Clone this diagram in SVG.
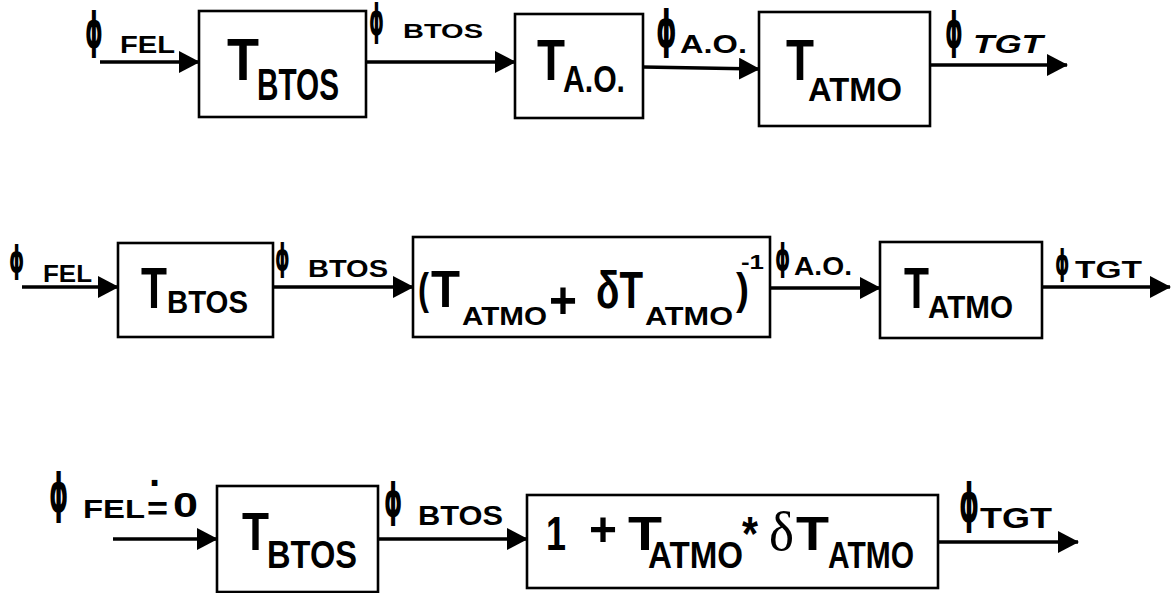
<svg xmlns="http://www.w3.org/2000/svg" width="1175" height="593" viewBox="0 0 1175 593">
  <style>
    .blk { fill: #fff; stroke: #000; stroke-width: 2.6; }
    .wire { fill: none; stroke: #000; stroke-width: 3.6; marker-end: url(#head); }
    text { font-family: "Liberation Sans", Arial, "DejaVu Sans", sans-serif; font-weight: bold; fill: #000; }
    .phi { font-family: "DejaVu Sans", sans-serif; font-weight: bold; }
    .ser { font-family: "Liberation Serif", "Times New Roman", serif; font-weight: normal; }
    .it { font-style: italic; }
  </style>
  <defs>
    <marker id="head" markerUnits="userSpaceOnUse" viewBox="0 0 21 22" markerWidth="21" markerHeight="22" refX="20" refY="11" orient="auto">
      <path d="M0,0 L21,11 L0,22 Z" fill="#000"/>
    </marker>
  </defs>
  <rect width="1175" height="593" fill="#fff"/>

  <!-- connectors -->
  <g id="connectors">
    <!-- row 1 -->
    <line class="wire" x1="100" y1="62" x2="199" y2="62"/>
    <line class="wire" x1="366" y1="62" x2="515" y2="62"/>
    <line class="wire" x1="643" y1="67" x2="759" y2="69"/>
    <line class="wire" x1="930" y1="65" x2="1067" y2="65"/>
    <!-- row 2 -->
    <line class="wire" x1="22" y1="287" x2="118" y2="287"/>
    <line class="wire" x1="273" y1="287" x2="413" y2="287"/>
    <line class="wire" x1="770" y1="288" x2="880" y2="288"/>
    <line class="wire" x1="1042" y1="287" x2="1170" y2="287"/>
    <!-- row 3 -->
    <line class="wire" x1="113" y1="539" x2="217" y2="539"/>
    <line class="wire" x1="378" y1="539" x2="527" y2="539"/>
    <line class="wire" x1="938" y1="542" x2="1078" y2="542"/>
  </g>

  <!-- signal labels (phi glyphs narrowed with a horizontal scale) -->
  <g id="labels">
    <text class="phi" font-size="50" transform="translate(85,48) scale(0.45,1)">ϕ</text>
    <text x="120" y="53" font-size="24" textLength="55" lengthAdjust="spacingAndGlyphs">FEL</text>
    <text class="phi" font-size="42" transform="translate(369,35) scale(0.45,1)">ϕ</text>
    <text x="403" y="38" font-size="21" textLength="80" lengthAdjust="spacingAndGlyphs">BTOS</text>
    <text class="phi" font-size="52" transform="translate(656,47) scale(0.5,1)">ϕ</text>
    <text x="680" y="53" font-size="25" textLength="67" lengthAdjust="spacingAndGlyphs">A.O.</text>
    <text class="phi" font-size="50" transform="translate(945,48) scale(0.45,1)">ϕ</text>
    <text class="it" x="973" y="53" font-size="25" textLength="70" lengthAdjust="spacingAndGlyphs">TGT</text>

    <text class="phi" font-size="37" transform="translate(9,272) scale(0.52,1)">ϕ</text>
    <text x="43" y="282" font-size="24" textLength="49" lengthAdjust="spacingAndGlyphs">FEL</text>
    <text class="phi" font-size="37" transform="translate(275,270) scale(0.5,1)">ϕ</text>
    <text x="308" y="277" font-size="24" textLength="80" lengthAdjust="spacingAndGlyphs">BTOS</text>
    <text class="phi" font-size="37" transform="translate(775,270) scale(0.52,1)">ϕ</text>
    <text x="794" y="275" font-size="25" textLength="58" lengthAdjust="spacingAndGlyphs">A.O.</text>
    <text class="phi" font-size="35" transform="translate(1055,275) scale(0.52,1)">ϕ</text>
    <text x="1075" y="278" font-size="23" textLength="67" lengthAdjust="spacingAndGlyphs">TGT</text>

    <text class="phi" font-size="54" transform="translate(49,512) scale(0.45,1)">ϕ</text>
    <text x="83" y="518" font-size="25" textLength="62" lengthAdjust="spacingAndGlyphs">FEL</text>
    <text x="147" y="520" font-size="34" textLength="21" lengthAdjust="spacingAndGlyphs">=</text>
    <text x="149" y="497" font-size="40">·</text>
    <text x="173" y="517" font-size="35" textLength="25" lengthAdjust="spacingAndGlyphs">0</text>
    <text class="phi" font-size="46" transform="translate(384,516) scale(0.5,1)">ϕ</text>
    <text x="418" y="525" font-size="28" textLength="85" lengthAdjust="spacingAndGlyphs">BTOS</text>
    <text class="phi" font-size="54" transform="translate(959,522) scale(0.47,1)">ϕ</text>
    <text x="980" y="528" font-size="29" textLength="72" lengthAdjust="spacingAndGlyphs">TGT</text>
  </g>

  <!-- row 1 blocks -->
  <g id="r1-btos">
    <rect class="blk" x="199" y="11" width="167" height="106"/>
    <text x="227" y="80" font-size="60" textLength="32" lengthAdjust="spacingAndGlyphs">T</text>
    <text x="257" y="100" font-size="45" textLength="82" lengthAdjust="spacingAndGlyphs">BTOS</text>
  </g>
  <g id="r1-ao">
    <rect class="blk" x="515" y="14" width="128" height="104"/>
    <text x="537" y="80" font-size="58" textLength="28" lengthAdjust="spacingAndGlyphs">T</text>
    <text x="563" y="92" font-size="37" textLength="62" lengthAdjust="spacingAndGlyphs">A.O.</text>
  </g>
  <g id="r1-atmo">
    <rect class="blk" x="759" y="12" width="171" height="114"/>
    <text x="786" y="80" font-size="58" textLength="28" lengthAdjust="spacingAndGlyphs">T</text>
    <text x="808" y="101" font-size="33" textLength="94" lengthAdjust="spacingAndGlyphs">ATMO</text>
  </g>

  <!-- row 2 blocks -->
  <g id="r2-btos">
    <rect class="blk" x="118" y="243" width="155" height="94"/>
    <text x="141" y="308" font-size="57" textLength="26" lengthAdjust="spacingAndGlyphs">T</text>
    <text x="167" y="313" font-size="32" textLength="81" lengthAdjust="spacingAndGlyphs">BTOS</text>
  </g>
  <g id="r2-inverse">
    <rect class="blk" x="413" y="237" width="357" height="100"/>
    <text x="418" y="304" font-size="45" font-weight="normal" textLength="11" lengthAdjust="spacingAndGlyphs">(</text>
    <text x="431" y="307" font-size="52" textLength="29" lengthAdjust="spacingAndGlyphs">T</text>
    <text x="462" y="325" font-size="25" textLength="85" lengthAdjust="spacingAndGlyphs">ATMO</text>
    <text x="549" y="318" font-size="52" font-weight="normal" textLength="28" lengthAdjust="spacingAndGlyphs">+</text>
    <text x="596" y="308" font-size="52" font-weight="normal" textLength="47" lengthAdjust="spacingAndGlyphs">δT</text>
    <text x="645" y="325" font-size="25" textLength="88" lengthAdjust="spacingAndGlyphs">ATMO</text>
    <text x="736" y="304" font-size="45" font-weight="normal" textLength="13" lengthAdjust="spacingAndGlyphs">)</text>
    <text x="741" y="269" font-size="21" textLength="23" lengthAdjust="spacingAndGlyphs">-1</text>
  </g>
  <g id="r2-atmo">
    <rect class="blk" x="880" y="242" width="162" height="96"/>
    <text x="904" y="308" font-size="57" textLength="25" lengthAdjust="spacingAndGlyphs">T</text>
    <text x="928" y="318" font-size="32" textLength="85" lengthAdjust="spacingAndGlyphs">ATMO</text>
  </g>

  <!-- row 3 blocks -->
  <g id="r3-btos">
    <rect class="blk" x="217" y="486" width="161" height="106"/>
    <text x="242" y="550" font-size="53" textLength="27" lengthAdjust="spacingAndGlyphs">T</text>
    <text x="267" y="568" font-size="39" textLength="90" lengthAdjust="spacingAndGlyphs">BTOS</text>
  </g>
  <g id="r3-correction">
    <rect class="blk" x="527" y="495" width="411" height="93"/>
    <text x="546" y="550" font-size="49" textLength="20" lengthAdjust="spacingAndGlyphs">1</text>
    <text x="589" y="546" font-size="49" textLength="28" lengthAdjust="spacingAndGlyphs">+</text>
    <text x="628" y="550" font-size="49" textLength="34" lengthAdjust="spacingAndGlyphs">T</text>
    <text x="648" y="568" font-size="36" textLength="95" lengthAdjust="spacingAndGlyphs">ATMO</text>
    <text x="742" y="550" font-size="49" textLength="16" lengthAdjust="spacingAndGlyphs">*</text>
    <text class="ser" x="769" y="550" font-size="55" textLength="25" lengthAdjust="spacingAndGlyphs">δ</text>
    <text x="796" y="550" font-size="49" textLength="33" lengthAdjust="spacingAndGlyphs">T</text>
    <text x="828" y="568" font-size="36" textLength="86" lengthAdjust="spacingAndGlyphs">ATMO</text>
  </g>
</svg>
